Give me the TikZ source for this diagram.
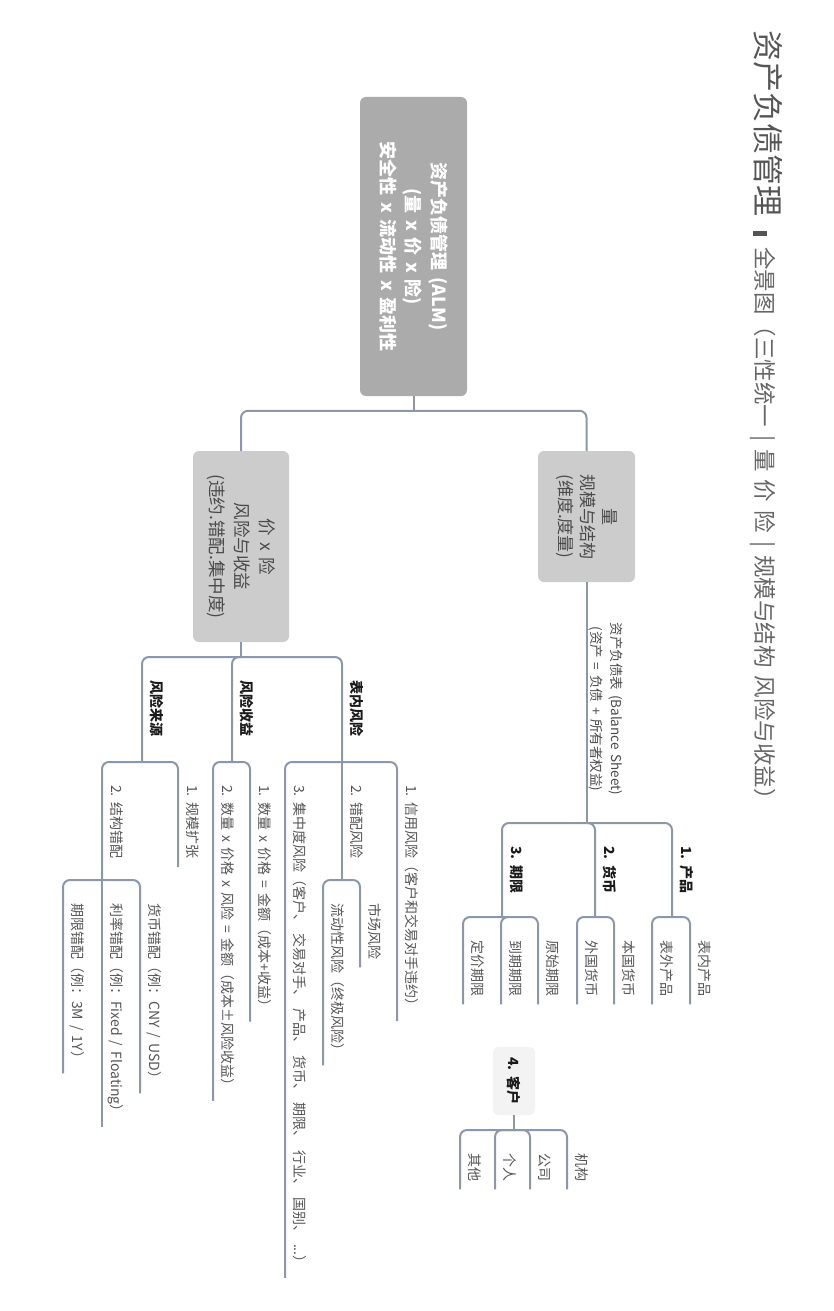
\documentclass[tikz,border=0pt]{standalone}
\usepackage{fontspec}
\setmainfont{Noto Sans CJK SC}[WordSpace=1.6]
\usetikzlibrary{calc}
\definecolor{linec}{HTML}{8C98AA}
\definecolor{leafc}{HTML}{555555}
\definecolor{labc}{HTML}{1A1A1A}
\definecolor{rootc}{HTML}{ABABAB}
\definecolor{boxc}{HTML}{CCCCCC}
\definecolor{boxt}{HTML}{4A4A4A}
\definecolor{khc}{HTML}{F3F3F3}
\definecolor{titc}{HTML}{555555}
\definecolor{titc2}{HTML}{666666}
\newcommand\mmleaf[6]{%
  \coordinate (#1-l) at (#3,#4);
  \node[#5] (#1) at (#3+13.5,#4+23) {#6};
  \draw[conn] (#2) -| ($(#1-l |- #1.east)+(0,8)$);
}
\newcommand\mmmid[7]{%
  \coordinate (#1-e) at (#3,#7);
  \node[#5] (#1) at (#3+13.5,#4+23) {#6};
  \draw[conn] (#2) -| (#1-e);
}
\begin{document}
\begin{tikzpicture}[x=1pt,y=-1pt,
  conn/.style={draw=linec, line width=2pt, rounded corners=7pt},
  vt/.style={rotate=-90, inner sep=0pt, anchor=west, text height=.88em, text depth=.12em},
  leaf/.style={vt, font=\fontsize{14}{16}\selectfont, text=leafc},
  lab/.style={vt, font=\fontsize{14}{16}\selectfont\bfseries, text=labc},
  bigbox/.style={rotate=-90, rounded corners=6pt, inner sep=0pt, align=center},
]
\useasboundingbox (0,0) rectangle (833,1311);

% title
\node[vt, font=\fontsize{31}{33}\selectfont, text=titc] (t1) at (760,30) {资产负债管理};
\node[fill=titc, minimum width=14pt, minimum height=5pt, inner sep=0pt, outer sep=0pt] (tbar) at (760,233) {};
\node[vt, font=\fontsize{22.5}{24}\selectfont, text=titc2] (t2) at (760,247) {全景图（三性统一 | 量 价 险 | 规模与结构 风险与收益）};

% root and main branches
\node[bigbox, fill=rootc, minimum width=299pt, minimum height=107pt, text=white,
      font=\fontsize{18}{25.5}\selectfont\bfseries] (root) at (413.5,246.5)
      {资产负债管理 (ALM)\\(量 x 价 x 险)\\安全性 x 流动性 x 盈利性};
\node[bigbox, fill=boxc, minimum width=131pt, minimum height=97pt, text=boxt,
      font=\fontsize{17}{22}\selectfont] (liang) at (586.5,516.5)
      {量\\规模与结构\\(维度.度量)};
\node[bigbox, fill=boxc, minimum width=191pt, minimum height=96pt, text=boxt,
      font=\fontsize{17.5}{25}\selectfont] (jia) at (241,546.5)
      {价 x 险\\风险与收益\\(违约.错配.集中度)};
\draw[conn] (root.east) -- ++(0,15);
\draw[conn] (jia.west) -- ++(0,-40) -| (liang.west);

% 量 side
\node[rotate=-90, inner sep=0pt, align=center, font=\fontsize{13.5}{20}\selectfont, text=boxt] (bs) at (606,709)
  {资产负债表 (Balance Sheet)\\(资产 = 负债 + 所有者权益)};
\coordinate (j1) at (586.5,823);
\draw[conn] (liang.east) -- (j1);
\mmmid{cp}{j1}{672}{823}{lab}{1. 产品}{917}
\mmmid{hb}{j1}{595}{823}{lab}{2. 货币}{917}
\mmmid{qx}{j1}{502}{823}{lab}{3. 期限}{917}
\mmleaf{bnp}{cp-e}{690}{917}{leaf}{表内产品}
\mmleaf{bwp}{cp-e}{652}{917}{leaf}{表外产品}
\mmleaf{bghb}{hb-e}{614}{917}{leaf}{本国货币}
\mmleaf{wghb}{hb-e}{577}{917}{leaf}{外国货币}
\mmleaf{ysqx}{qx-e}{538}{917}{leaf}{原始期限}
\mmleaf{dqqx}{qx-e}{501}{917}{leaf}{到期期限}
\mmleaf{djqx}{qx-e}{463}{917}{leaf}{定价期限}

% 4. 客户 (floating)
\node[rotate=-90, fill=khc, rounded corners=5pt, minimum width=68pt, minimum height=42pt, inner sep=0pt,
      font=\fontsize{14}{16}\selectfont\bfseries, text=labc] (kh) at (514,1081) {4. 客户};
\coordinate (j3) at (514,1130);
\draw[conn] (kh.east) -- (j3);
\mmleaf{jg}{j3}{567}{1130}{leaf}{机构}
\mmleaf{gs}{j3}{530}{1130}{leaf}{公司}
\mmleaf{gr}{j3}{495}{1130}{leaf}{个人}
\mmleaf{qt}{j3}{460}{1130}{leaf}{其他}

% 价 x 险 side
\coordinate (j2) at (241,657);
\draw[conn] (jia.east) -- (j2);
\mmmid{fl}{j2}{142}{657}{lab}{风险来源}{762}
\mmmid{fs}{j2}{232}{657}{lab}{风险收益}{762}
\mmmid{bn}{j2}{342}{657}{lab}{表内风险}{762}

\mmleaf{sl1}{fs-e}{250}{762}{leaf}{1. 数量 x 价格 = 金额（成本+收益）}
\mmleaf{sl2}{fs-e}{213}{762}{leaf}{2. 数量 x 价格 x 风险 = 金额（成本±风险收益）}

\mmleaf{gmkz}{fl-e}{178}{762}{leaf}{1. 规模扩张}
\mmmid{jgcp}{fl-e}{102}{762}{leaf}{2. 结构错配}{880}
\mmleaf{hbcp}{jgcp-e}{140}{880}{leaf}{货币错配（例：CNY / USD）}
\mmleaf{llcp}{jgcp-e}{102}{880}{leaf}{利率错配（例：Fixed / Floating）}
\mmleaf{qxcp}{jgcp-e}{63}{880}{leaf}{期限错配（例：3M / 1Y）}

\mmleaf{xyfx}{bn-e}{397}{762}{leaf}{1. 信用风险（客户和交易对手违约）}
\mmmid{cpfx}{bn-e}{342}{762}{leaf}{2. 错配风险}{880}
\mmleaf{jzfx}{bn-e}{285}{762}{leaf}{3. 集中度风险（客户、 交易对手、 产品、 货币、 期限、 行业、 国别、 ...）}
\mmleaf{scfx}{cpfx-e}{360}{880}{leaf}{市场风险}
\mmleaf{ldfx}{cpfx-e}{323}{880}{leaf}{流动性风险（终极风险）}
\end{tikzpicture}
\end{document}
